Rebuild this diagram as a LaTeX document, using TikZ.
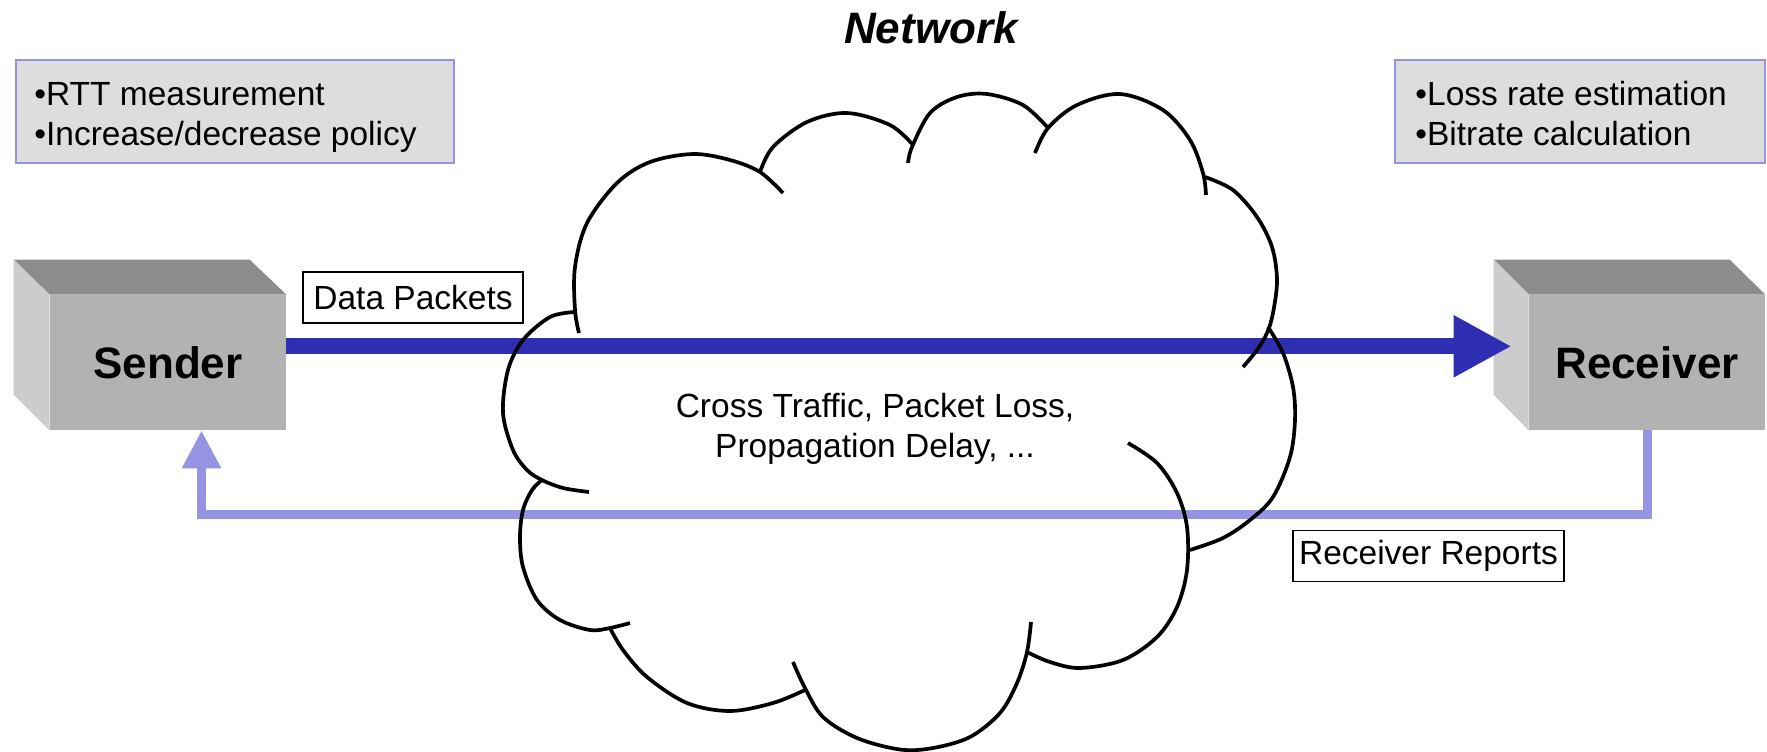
\documentclass[tikz,border=0pt]{standalone}
\usepackage{fontspec}
\setmainfont{Liberation Sans}
\usetikzlibrary{arrows.meta}
\definecolor{databl}{RGB}{46,46,178}
\definecolor{lav}{RGB}{148,148,226}
\definecolor{boxgray}{RGB}{221,221,221}
\definecolor{topg}{RGB}{140,140,140}
\definecolor{frontg}{RGB}{178,178,178}
\definecolor{sideg}{RGB}{204,204,204}
\tikzset{
  lblfont/.style={font=\fontsize{16.75pt}{20pt}\selectfont},
  infotext/.style={lblfont, inner sep=0pt, anchor=base west},
  infobox/.style={fill=boxgray, draw=lav, line width=0.7pt, inner sep=0pt},
  lblbox/.style={lblfont, draw=black, line width=0.8pt, fill=white, inner sep=0pt, minimum height=25.5pt},
  frontface/.style={fill=frontg, inner sep=0pt, minimum width=118pt, minimum height=67.5pt, font=\bfseries\fontsize{22pt}{26pt}\selectfont},
  topface/.style={fill=topg},
  sideface/.style={fill=sideg},
  dataarrow/.style={draw=databl, line width=8pt, -{Triangle[length=29pt,width=29pt]}},
  reportarrow/.style={draw=lav, line width=4.5pt, line join=miter, -{Triangle[length=19pt,width=18.5pt]}},
  cloudline/.style={draw=black, line width=1.85pt, line join=round},
  crosstext/.style={lblfont, inner sep=0pt, anchor=base},
}
\begin{document}
\begin{tikzpicture}[x=0.5pt,y=-0.5pt]
\useasboundingbox (0,0) rectangle (1767,751);

% title
\node[font=\bfseries\itshape\fontsize{22pt}{26pt}\selectfont, inner sep=0pt, anchor=base] (title) at (931,43) {Network};

% info boxes
\node[infobox, minimum width=219pt, minimum height=51.5pt] (sinfo) at (235,111.5) {};
\node[infotext] (sinfo1) at (34,105) {•RTT measurement};
\node[infotext] (sinfo2) at (34,145) {•Increase/decrease policy};
\node[infobox, minimum width=185pt, minimum height=51.5pt] (rinfo) at (1580,111.5) {};
\node[infotext] (rinfo1) at (1415,105) {•Loss rate estimation};
\node[infotext] (rinfo2) at (1415,145) {•Bitrate calculation};

% sender box
\node[frontface] (sender) at (168,362.5) {Sender};
\fill[topface] (sender.north west) -- ++(-36,-35) -- ++(236,0) -- (sender.north east) -- cycle;
\fill[sideface] (sender.north west) -- ++(-36,-35) -- ++(0,135) -- (sender.south west) -- cycle;

% receiver box
\node[frontface] (receiver) at (1647,362.5) {Receiver};
\fill[topface] (receiver.north west) -- ++(-35,-35) -- ++(236,0) -- (receiver.north east) -- cycle;
\fill[sideface] (receiver.north west) -- ++(-35,-35) -- ++(0,135) -- (receiver.south west) -- cycle;

% connectors
\coordinate (rr) at (0,514.5);
\draw[dataarrow] ([yshift=8.1pt]sender.east) -- ([xshift=-8.5pt,yshift=8.1pt]receiver.west);
\draw[reportarrow] (receiver.south) -- (receiver.south |- rr) -| ([xshift=16.75pt]sender.south);

% cloud
\draw[cloudline] plot[smooth, tension=0.55] coordinates {(579,333) (575,310) (575,267) (587,223) (617,183) (650,162) (693,154) (730,160) (760,172) (783,193)};
\draw[cloudline] plot[smooth, tension=0.55] coordinates {(760,172) (773,147) (807,122) (847,113) (890,125) (913,145)};
\draw[cloudline] plot[smooth, tension=0.55] coordinates {(908,163) (912,147) (930,113) (957,97) (987,94) (1023,105) (1048,128)};
\draw[cloudline] plot[smooth, tension=0.55] coordinates {(1035,153) (1048,128) (1077,105) (1120,94) (1163,110) (1190,140) (1203,173) (1206,195)};
\draw[cloudline] plot[smooth, tension=0.55] coordinates {(1205,177) (1233,190) (1257,217) (1272,247) (1277,280) (1273,313) (1267,333) (1257,350) (1243,367)};
\draw[cloudline] plot[smooth, tension=0.55] coordinates {(1268,327) (1283,353) (1293,387) (1295,420) (1290,457) (1273,497) (1250,520) (1223,538) (1190,550)};
\draw[cloudline] plot[smooth, tension=0.55] coordinates {(1128,443) (1157,463) (1177,493) (1187,527) (1187,570) (1177,607) (1157,637) (1123,660) (1080,668) (1050,662) (1027,652)};
\draw[cloudline] plot[smooth, tension=0.55] coordinates {(1031,622) (1027,652) (1017,683) (1000,713) (970,737) (933,748) (900,749.5) (857,738) (823,717) (805,688) (793,662)};
\draw[cloudline] plot[smooth, tension=0.55] coordinates {(805,690) (773,703) (730,711) (687,703) (647,677) (623,650) (610,628)};
\draw[cloudline] plot[smooth, tension=0.55] coordinates {(630,623) (610,628) (590,630) (560,620) (537,600) (523,567) (520,537) (523,510) (532,490) (542,480)};
\draw[cloudline] plot[smooth, tension=0.55] coordinates {(575,312) (550,317) (523,340) (508,370) (503,413) (513,450) (527,470) (542,480) (563,488) (589,492)};

% labels
\node[lblbox, minimum width=110pt] (dp) at (413,297.5) {Data Packets};
\node[lblbox, minimum width=135.5pt] (rrep) at (1428.5,556) {Receiver Reports};
\node[crosstext] (ct1) at (875,417) {Cross Traffic, Packet Loss,};
\node[crosstext] (ct2) at (875,457) {Propagation Delay, ...};
\end{tikzpicture}
\end{document}
